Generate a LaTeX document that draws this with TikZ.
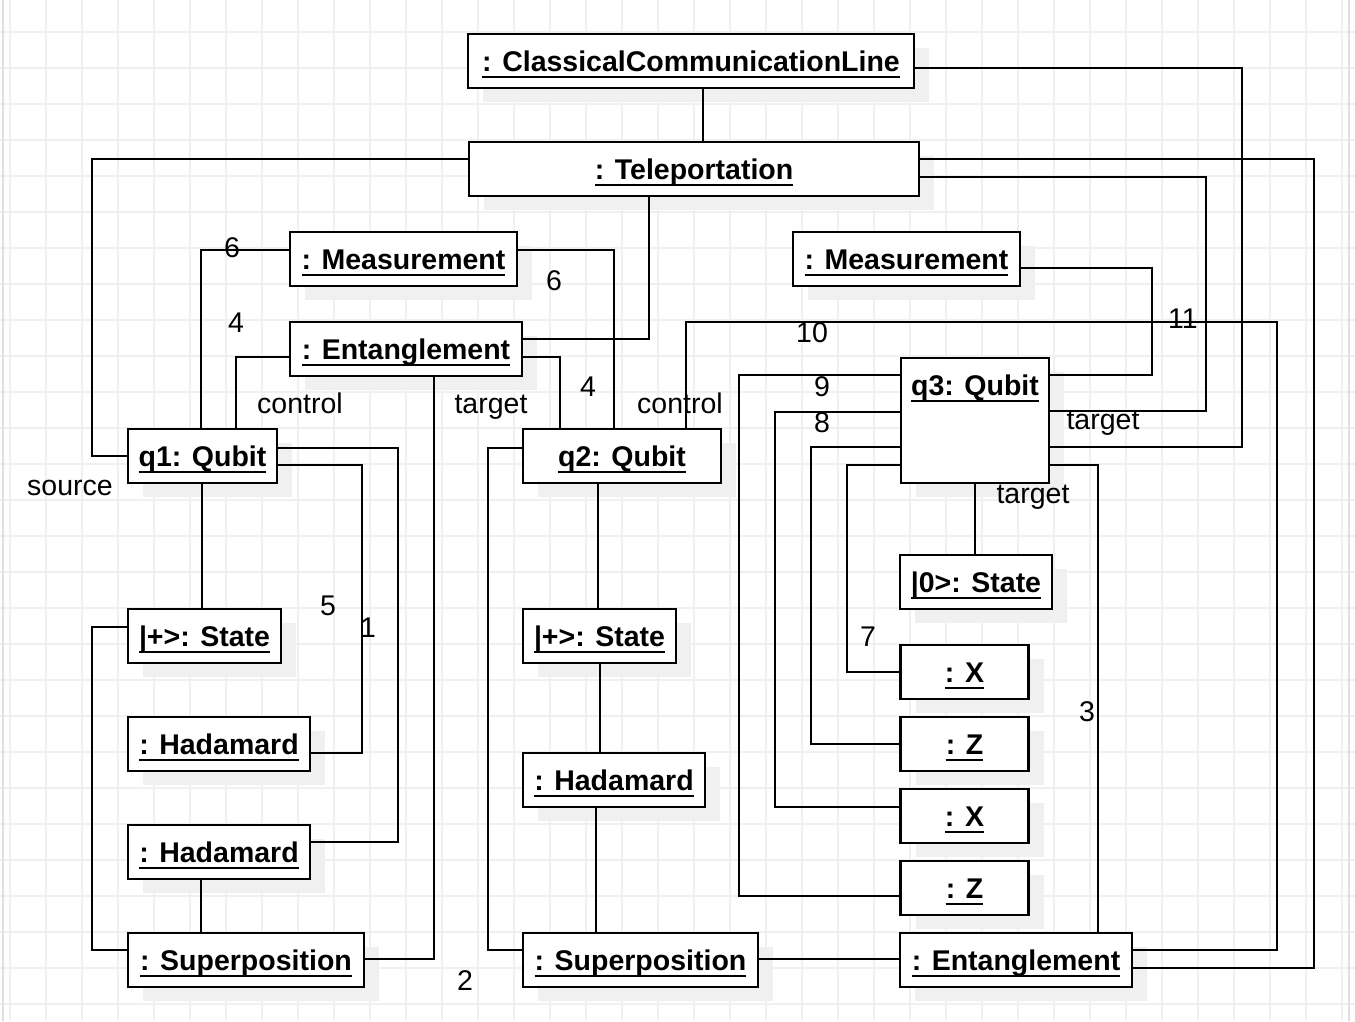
\documentclass[tikz,border=0pt]{standalone}
\usepackage{fontspec}
\setmainfont{Liberation Sans}
\usetikzlibrary{shadows}

\newcommand{\objname}[1]{\setbox0=\hbox{#1}\rlap{\rule[-7pt]{\wd0}{2.4pt}}\box0}

\begin{document}
\begin{tikzpicture}[x=1pt, y=-1pt,
    gridline/.style={draw=black!6, line width=1.1pt},
    objbox/.style={rectangle, draw, line width=2.8pt, fill=white, inner sep=0pt,
      minimum height=54pt, text height=20pt, text depth=0pt,
      font=\bfseries\fontsize{28.5}{34}\selectfont,
      general shadow={fill=black!6, shadow xshift=15pt, shadow yshift=-14pt}},
    objtext/.style={inner sep=0pt, text height=20pt, text depth=0pt,
      font=\bfseries\fontsize{28.5}{34}\selectfont},
    lbl/.style={inner sep=0pt, text height=20pt, text depth=0pt,
      font=\fontsize{28.5}{34}\selectfont},
    conn/.style={line width=2.4pt}]
    \useasboundingbox (0,0) rectangle (1355,1021);

    % background grid
    \foreach \gx in {10,46,...,1342} \draw[gridline] (\gx,0) -- (\gx,1021);
    \foreach \gy in {32,68,...,1004} \draw[gridline] (0,\gy) -- (1355,\gy);
    \draw[draw=black!12, line width=2pt] (3,0) -- (3,1021);
    \draw[draw=black!12, line width=2pt] (1349,0) -- (1349,1021);

    % objects
    \node[objbox, minimum width=446pt] (ccl) at (691,61) {\objname{: ClassicalCommunicationLine}};
    \node[objbox, minimum width=450pt] (tele) at (694,169) {\objname{: Teleportation}};
    \node[objbox, minimum width=227pt] (measL) at (403.5,259) {\objname{: Measurement}};
    \node[objbox, minimum width=232pt] (entL) at (406,349) {\objname{: Entanglement}};
    \node[objbox, minimum width=227pt] (measR) at (906.5,259) {\objname{: Measurement}};
    \node[objbox, minimum width=149pt] (q1) at (202.5,456) {\objname{q1: Qubit}};
    \node[objbox, minimum width=198pt] (q2) at (622,456) {\objname{q2: Qubit}};
    \node[objbox, minimum width=148pt, minimum height=125pt] (q3) at (975,420.5) {};
    \node[objtext] (q3name) at (975,385) {\objname{q3: Qubit}};
    \node[objbox, minimum width=153pt] (plusL) at (204.5,636) {\objname{|+>: State}};
    \node[objbox, minimum width=153pt] (plusM) at (599.5,636) {\objname{|+>: State}};
    \node[objbox, minimum width=152pt] (zero) at (976,582) {\objname{|0>: State}};
    \node[objbox, minimum width=182pt] (hadA) at (219,744) {\objname{: Hadamard}};
    \node[objbox, minimum width=182pt] (hadB) at (219,852) {\objname{: Hadamard}};
    \node[objbox, minimum width=182pt] (hadM) at (614,780) {\objname{: Hadamard}};
    \node[objbox, minimum width=236pt] (supL) at (246,960) {\objname{: Superposition}};
    \node[objbox, minimum width=235pt] (supM) at (640.5,960) {\objname{: Superposition}};
    \node[objbox, minimum width=232pt] (entR) at (1016,960) {\objname{: Entanglement}};
    \node[objbox, minimum width=128pt] (xA) at (964.5,672) {\objname{: X}};
    \node[objbox, minimum width=128pt] (zA) at (964.5,744) {\objname{: Z}};
    \node[objbox, minimum width=128pt] (xB) at (964.5,816) {\objname{: X}};
    \node[objbox, minimum width=128pt] (zB) at (964.5,888) {\objname{: Z}};

    % links
    \draw[conn] (ccl.south -| 703,0) -- (tele.north -| 703,0);
    \draw[conn] (ccl.east |- 0,68) -| (1242,447) -- (q3.east |- 0,447);
    \draw[conn] (tele.west |- 0,159) -| (92,456) -- (q1.west |- 0,456);
    \draw[conn] (measL.west |- 0,250) -| (q1.north -| 201,0);
    \draw[conn] (entL.west |- 0,357) -| (q1.north -| 236,0);
    \draw[conn] (entL.south -| 434,0) |- (supL.east |- 0,959);
    \draw[conn] (entL.east |- 0,357) -| (q2.north -| 560,0);
    \draw[conn] (measL.east |- 0,250) -| (q2.north -| 614,0);
    \draw[conn] (tele.south -| 649,0) |- (entL.east |- 0,339);
    \draw[conn] (q1.east |- 0,448) -| (398,842) -- (hadB.east |- 0,842);
    \draw[conn] (q1.east |- 0,465) -| (362,753) -- (hadA.east |- 0,753);
    \draw[conn] (q1.south -| 202,0) -- (plusL.north -| 202,0);
    \draw[conn] (plusL.west |- 0,627) -| (92,950) -- (supL.west |- 0,950);
    \draw[conn] (hadB.south -| 201,0) -- (supL.north -| 201,0);
    \draw[conn] (q2.west |- 0,448) -| (488,950) -- (supM.west |- 0,950);
    \draw[conn] (q2.south -| 598,0) -- (plusM.north -| 598,0);
    \draw[conn] (plusM.south -| 600,0) -- (hadM.north -| 600,0);
    \draw[conn] (hadM.south -| 596,0) -- (supM.north -| 596,0);
    \draw[conn] (supM.east |- 0,959) -- (entR.west |- 0,959);
    \draw[conn] (q2.north -| 686,0) |- (1277,322) |- (entR.east |- 0,950);
    \draw[conn] (tele.east |- 0,159) -| (1314,968) -- (entR.east |- 0,968);
    \draw[conn] (tele.east |- 0,177) -| (1206,411) -- (q3.east |- 0,411);
    \draw[conn] (measR.east |- 0,268) -| (1152,375) -- (q3.east |- 0,375);
    \draw[conn] (q3.east |- 0,465) -| (entR.north -| 1098,0);
    \draw[conn] (q3.south -| 975,0) -- (zero.north -| 975,0);
    \draw[conn] (q3.west |- 0,375) -| (739,896) -- (zB.west |- 0,896);
    \draw[conn] (q3.west |- 0,412) -| (775,807) -- (xB.west |- 0,807);
    \draw[conn] (q3.west |- 0,447) -| (811,744) -- (zA.west |- 0,744);
    \draw[conn] (q3.west |- 0,465) -| (847,672) -- (xA.west |- 0,672);

    % labels
    \node[lbl] (lsource) at (70,485) {source};
    \node[lbl] (lsixA) at (232,247) {6};
    \node[lbl] (lfourA) at (236,322) {4};
    \node[lbl] (lctrlA) at (300,403) {control};
    \node[lbl] (ltgtA) at (491,403) {target};
    \node[lbl] (lfourB) at (588,386) {4};
    \node[lbl] (lsixB) at (554,280) {6};
    \node[lbl] (lfive) at (328,605) {5};
    \node[lbl] (lone) at (368,627) {1};
    \node[lbl] (ltwo) at (465,980) {2};
    \node[lbl] (lctrlB) at (680,403) {control};
    \node[lbl] (lten) at (812,332) {10};
    \node[lbl] (leleven) at (1183,318) {11};
    \node[lbl] (lnine) at (822,386) {9};
    \node[lbl] (leight) at (822,422) {8};
    \node[lbl] (ltgtB) at (1103,419) {target};
    \node[lbl] (ltgtC) at (1033,493) {target};
    \node[lbl] (lseven) at (868,636) {7};
    \node[lbl] (lthree) at (1087,711) {3};
\end{tikzpicture}
\end{document}
